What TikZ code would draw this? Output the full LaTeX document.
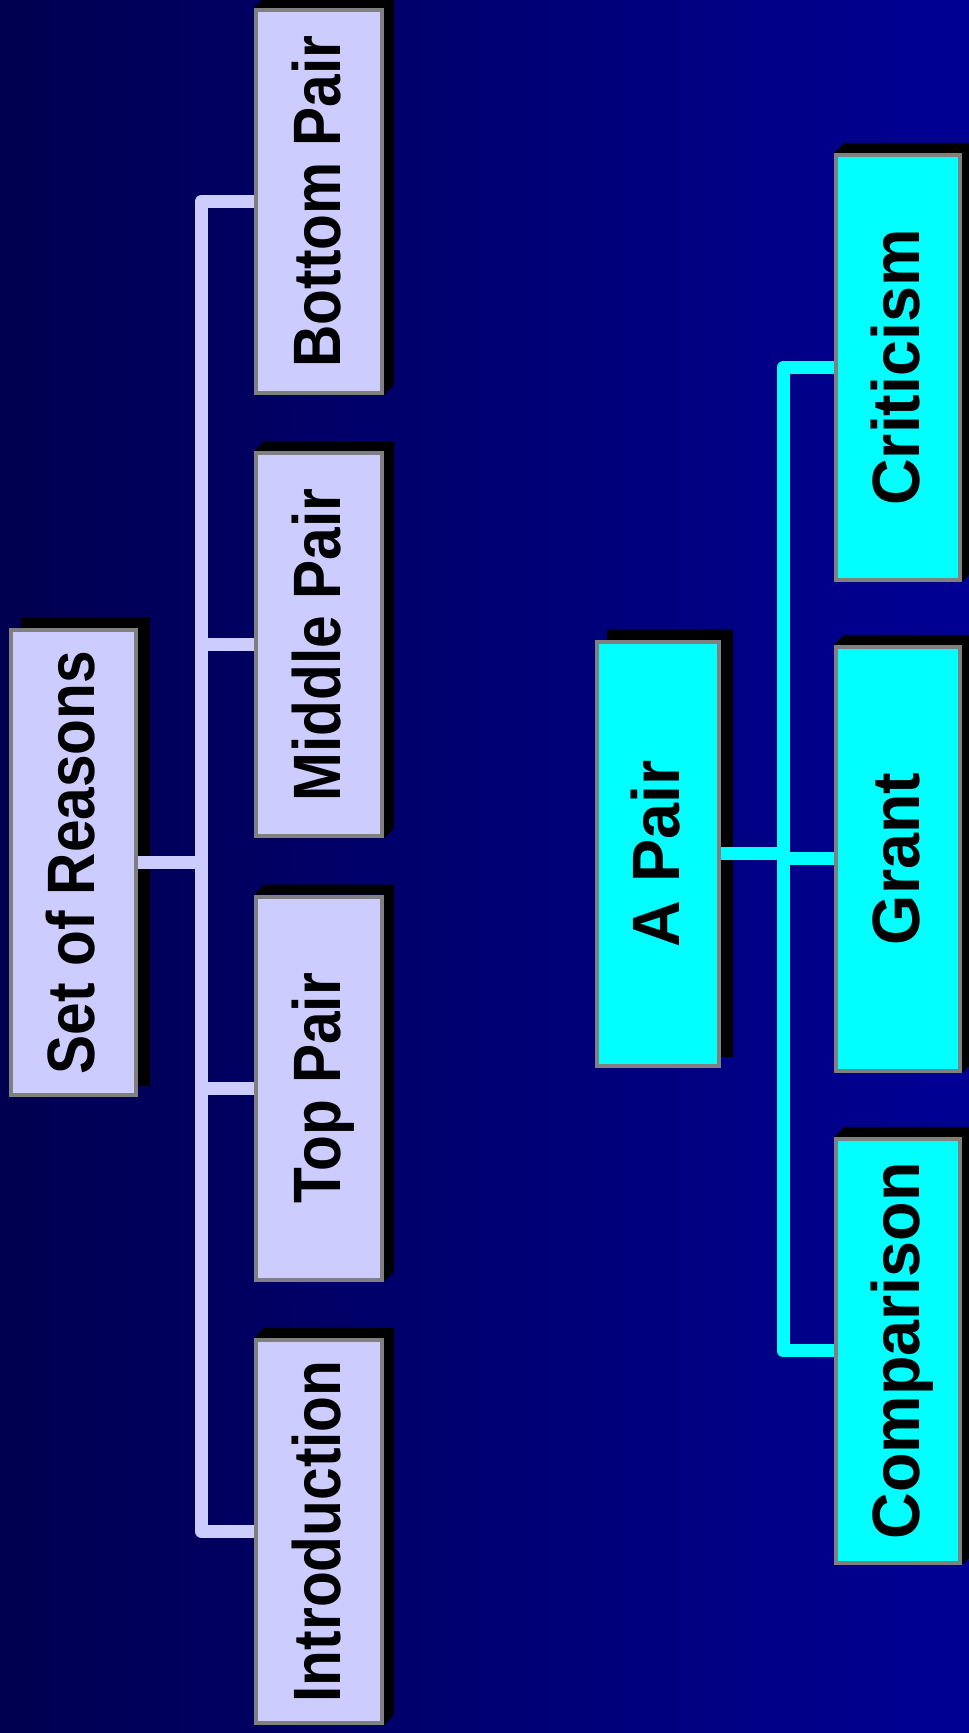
\documentclass[tikz,border=0pt]{standalone}
\usepackage{fontspec}
\usepackage{graphicx}
\newfontfamily\boxfontL{Liberation Sans}[FakeStretch=0.875]
\newfontfamily\boxfontR{Liberation Sans}[FakeStretch=0.965]
\definecolor{lav}{HTML}{CCCCFF}
\definecolor{boxgray}{HTML}{808080}
\definecolor{aqua}{HTML}{00FFFF}
\definecolor{bgl}{RGB}{0,0,80}
\definecolor{bgr}{RGB}{0,0,148}
\newcommand\vtext[1]{\rotatebox{90}{\rule{0pt}{42pt}\smash{#1}}}
\newcommand\extr[1]{\fill[black] (#1.north west) -- ++(10,10) -- ([shift={(10,10)}]#1.north east) -- ([shift={(10,10)}]#1.south east) -- (#1.south east) -- (#1.north east) -- cycle;}
\newcommand\flatsh[1]{\fill[black] ([shift={(12,11)}]#1.south west) rectangle ([shift={(12,11)}]#1.north east);}
\pgfdeclarelayer{back}
\pgfdeclarelayer{shade}
\pgfsetlayers{back,shade,main}
\begin{document}
\begin{tikzpicture}[x=1pt,y=1pt,
  box/.style={draw=boxgray, line width=4pt, inner sep=0pt, text=black},
  lavbox/.style={box, fill=lav, font=\boxfontL\bfseries\fontsize{67}{70}\selectfont},
  cybox/.style={box, fill=aqua, font=\boxfontR\bfseries\fontsize{67}{70}\selectfont},
  lavline/.style={draw=lav, line width=13pt, line join=round},
  cyline/.style={draw=aqua, line width=13pt, line join=round}]
\useasboundingbox (0,0) rectangle (969,1733);
\begin{pgfonlayer}{back}
\shade[left color=bgl, right color=bgr] (0,0) rectangle (969,1733);
\end{pgfonlayer}

% left tree
\node[lavbox, minimum width=125.5, minimum height=465] (sor) at (73.25,870.5) {\vtext{Set of Reasons}};
\node[lavbox, minimum width=126, minimum height=383] (bp) at (319,1531.5) {\vtext{Bottom Pair}};
\node[lavbox, minimum width=126, minimum height=383] (mp) at (319,1088.2) {\vtext{Middle Pair}};
\node[lavbox, minimum width=126, minimum height=383] (tp) at (319,644.9) {\vtext{Top Pair}};
\node[lavbox, minimum width=126, minimum height=383] (intro) at (319,201.6) {\vtext{Introduction}};
\coordinate (busL) at (201.5,0);

% right tree
\node[cybox, minimum width=122, minimum height=424] (ap) at (658,879) {\vtext{A Pair}};
\node[cybox, minimum width=124, minimum height=425] (crit) at (898,1365.5) {\vtext{Criticism}};
\node[cybox, minimum width=124, minimum height=424] (grant) at (898,874) {\vtext{Grant}};
\node[cybox, minimum width=124, minimum height=424] (comp) at (898,382) {\vtext{Comparison}};
\coordinate (busR) at (783,0);

\begin{pgfonlayer}{shade}
\flatsh{sor}
\flatsh{ap}
\extr{bp}\extr{mp}\extr{tp}\extr{intro}
\extr{crit}\extr{grant}\extr{comp}
\draw[lavline] (sor.east) -- (sor.east -| busL) |- (bp.west);
\draw[lavline] (sor.east) -- (sor.east -| busL) |- (mp.west);
\draw[lavline] (sor.east) -- (sor.east -| busL) |- (tp.west);
\draw[lavline] (sor.east) -- (sor.east -| busL) |- (intro.west);
\draw[cyline] (ap.east) -- (ap.east -| busR) |- (crit.west);
\draw[cyline] (ap.east) -- (ap.east -| busR) |- (grant.west);
\draw[cyline] (ap.east) -- (ap.east -| busR) |- (comp.west);
\end{pgfonlayer}
\end{tikzpicture}
\end{document}
